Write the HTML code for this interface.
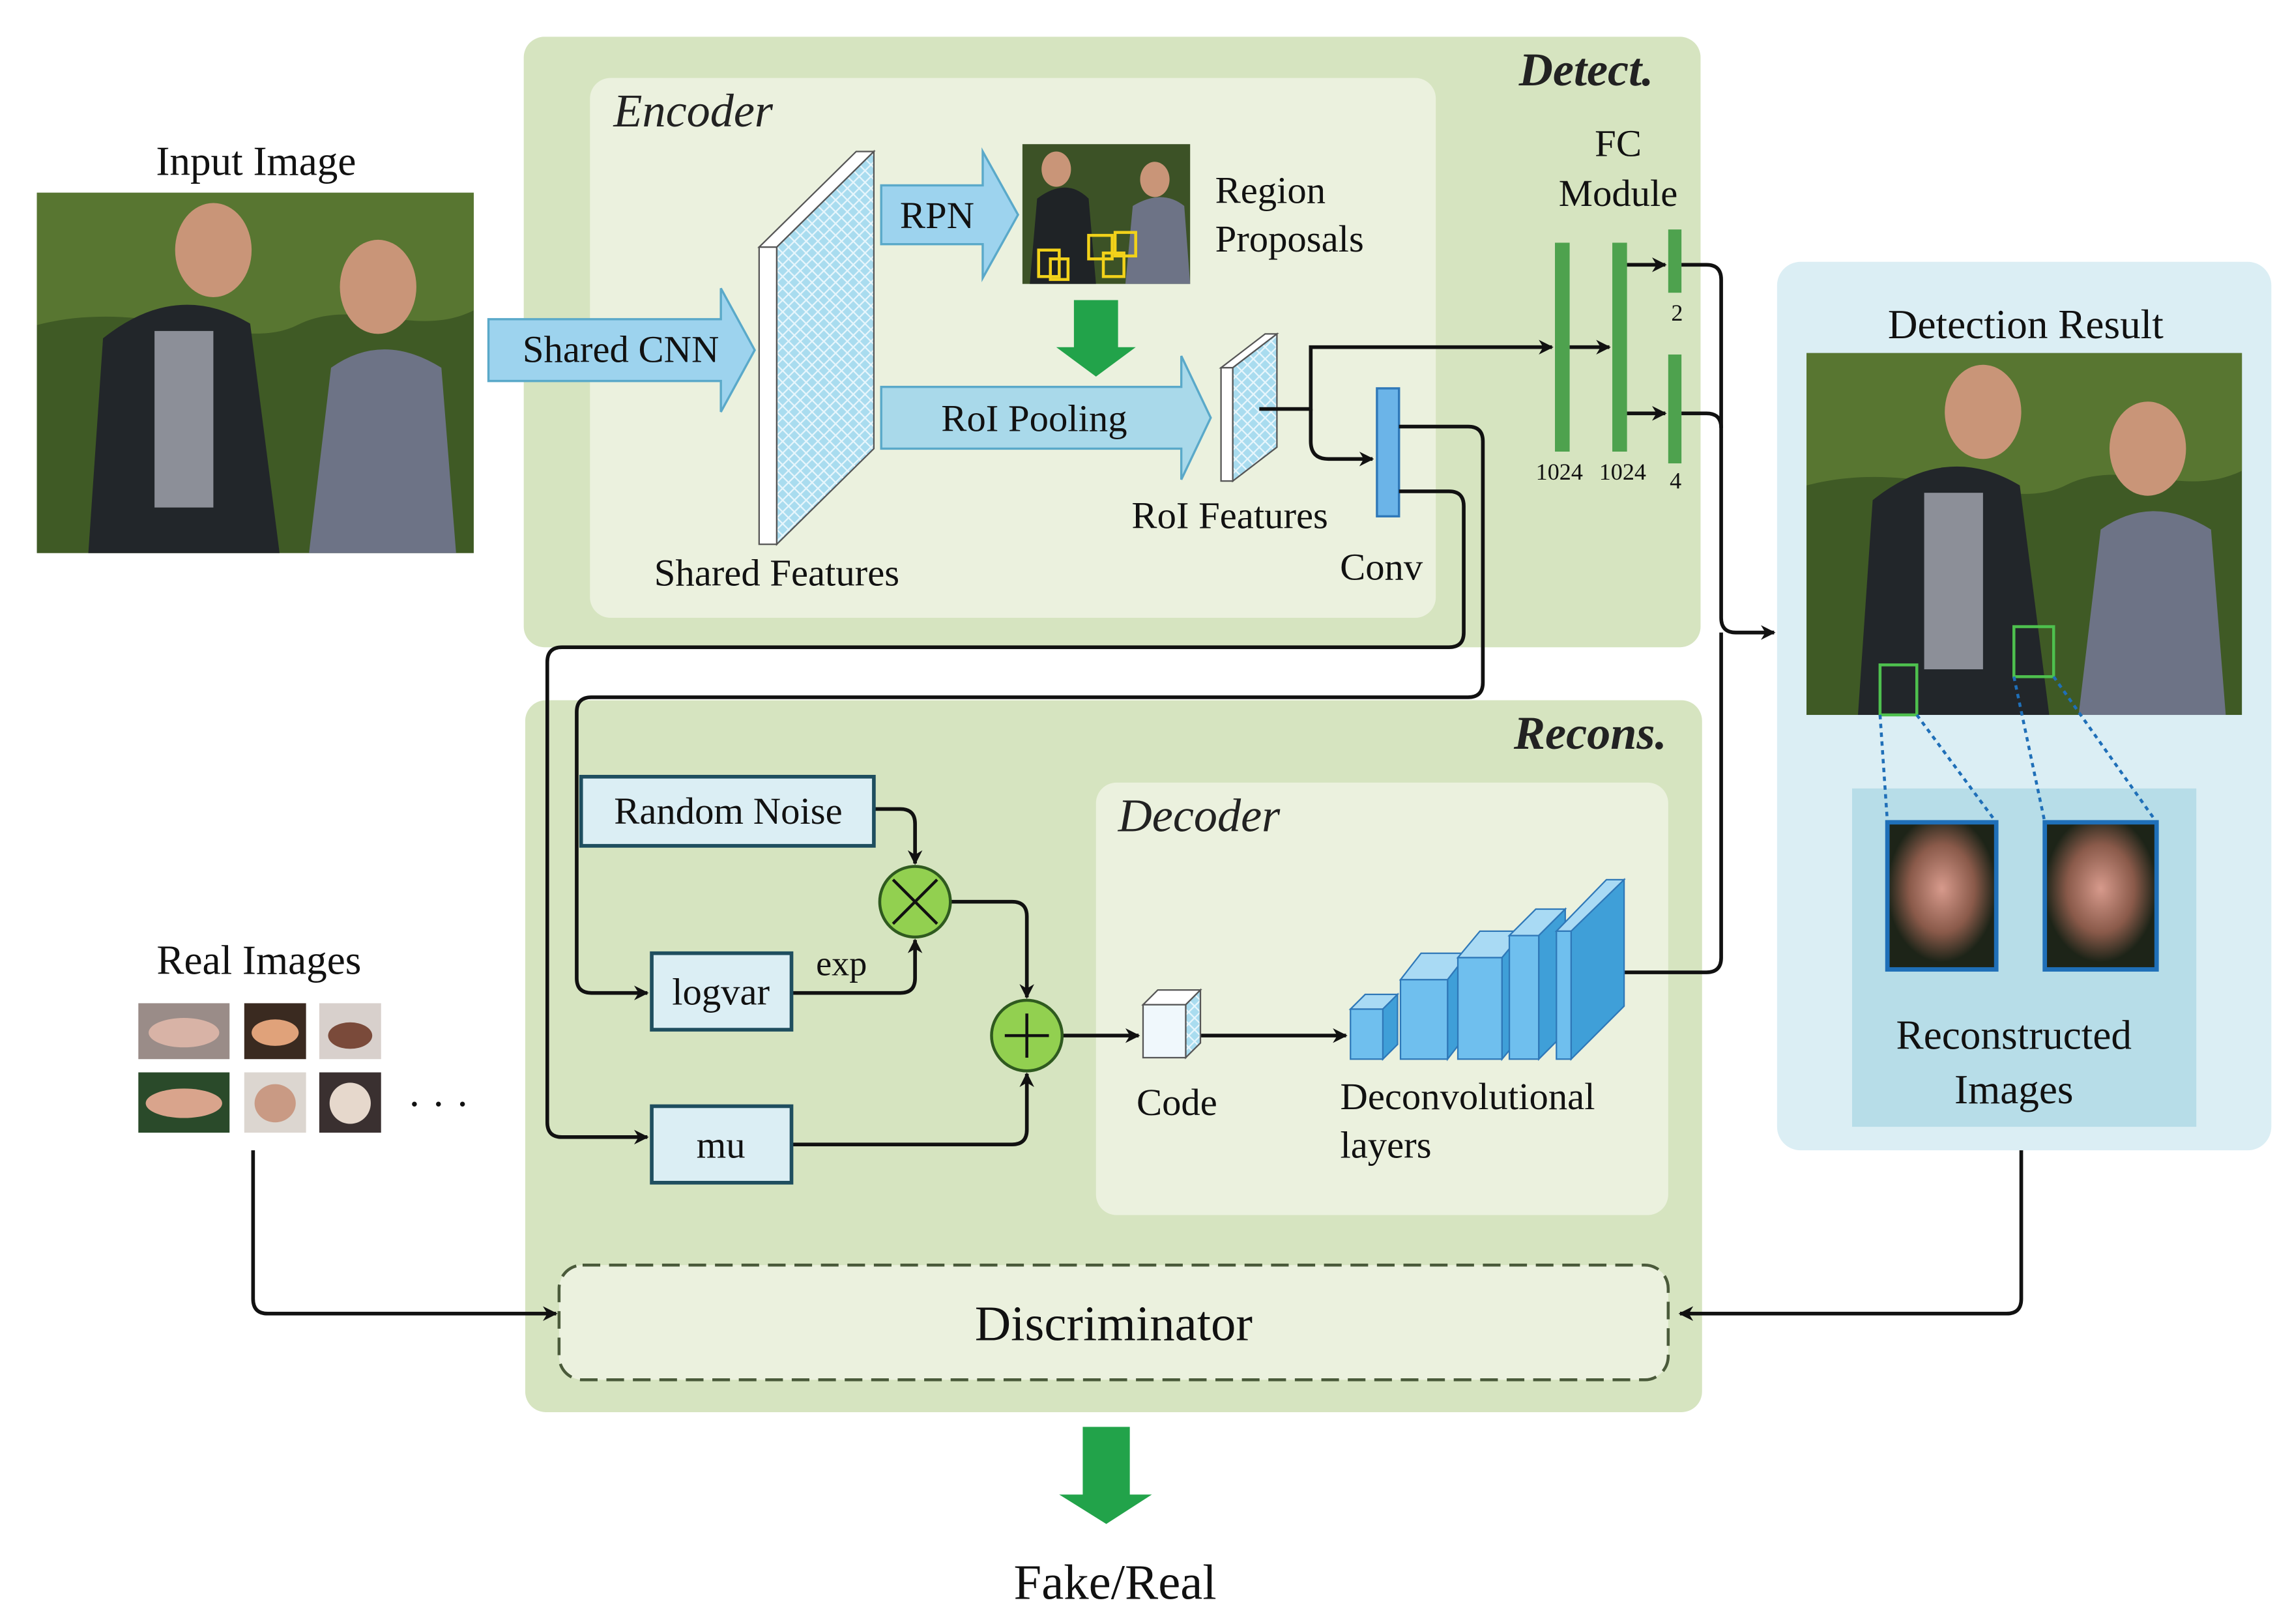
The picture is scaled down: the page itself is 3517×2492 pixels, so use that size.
<!DOCTYPE html>
<html><head><meta charset="utf-8"><style>html,body{margin:0;padding:0;background:#fff}svg{display:block}</style></head>
<body>
<svg width="3517" height="2492" viewBox="0 0 1558 1104" xmlns="http://www.w3.org/2000/svg" font-family="Liberation Serif, serif">
<defs>
<marker id="ar" markerWidth="10" markerHeight="10" refX="9" refY="5" orient="auto" markerUnits="userSpaceOnUse"><path d="M0,0 L10,5 L0,10 L3,5 Z" fill="#111"/></marker>
<pattern id="hatch" width="8" height="8" patternUnits="userSpaceOnUse"><rect width="8" height="8" fill="#a9dcef"/><path d="M0,0L8,8M8,0L0,8" stroke="#e8f6fc" stroke-width="1"/></pattern>
<radialGradient id="blob" cx="0.5" cy="0.45" r="0.5"><stop offset="0" stop-color="#d79a8c"/><stop offset="0.6" stop-color="#8a5a4a"/><stop offset="1" stop-color="#1d2418"/></radialGradient>
</defs>
<!-- panels -->
<rect x="356" y="25" width="800" height="415" rx="14" fill="#d6e4c0"/>
<rect x="401" y="53" width="575" height="367" rx="14" fill="#ebf1de"/>
<rect x="357" y="476" width="800" height="484" rx="14" fill="#d6e4c0"/>
<rect x="745" y="532" width="389" height="294" rx="14" fill="#ebf1de"/>
<rect x="380" y="860" width="754" height="78" rx="16" fill="#ebf1de" stroke="#4a5a3a" stroke-width="2" stroke-dasharray="12,6"/>
<rect x="1208" y="178" width="336" height="604" rx="16" fill="#dbeef4"/>
<rect x="1259" y="536" width="234" height="230" fill="#b7dde8"/>

<text x="417" y="86" font-size="32" font-style="italic" fill="#222">Encoder</text>
<text x="1124" y="58" font-size="32" font-style="italic" font-weight="bold" text-anchor="end" fill="#222">Detect.</text>
<text x="1133" y="509" font-size="32" font-style="italic" font-weight="bold" text-anchor="end" fill="#222">Recons.</text>
<text x="760" y="565" font-size="32" font-style="italic" fill="#222">Decoder</text>

<!-- input image -->
<text x="174" y="119" font-size="28" text-anchor="middle" fill="#111">Input Image</text>
<rect x="25" y="131" width="297" height="245" fill="#3f5a25"/>
<path d="M25,131h297v80c-40,20-80,-10-120,10s-100,-20-177,0z" fill="#5f7d35" opacity="0.8"/>
<path d="M60,376 L70,230 Q120,190 170,220 L190,376Z" fill="#22262a"/>
<rect x="105" y="225" width="40" height="120" fill="#8c8f98"/>
<ellipse cx="145" cy="170" rx="26" ry="32" fill="#c99578"/>
<path d="M210,376 L225,250 Q260,225 300,250 L310,376Z" fill="#6d7386"/>
<ellipse cx="257" cy="195" rx="26" ry="32" fill="#c99578"/>

<!-- shared CNN arrow -->
<path d="M332,217H490V196L513,238L490,280V259H332Z" fill="#9dd3ee" stroke="#5aa9c9" stroke-width="1.5"/>
<text x="422" y="246" font-size="26" text-anchor="middle" fill="#111">Shared CNN</text>
<!-- shared features slab -->
<path d="M516,168L582,103H594L528,168Z" fill="#fff" stroke="#555" stroke-width="1"/>
<rect x="516" y="168" width="12" height="202" fill="#fff" stroke="#555" stroke-width="1"/>
<path d="M528,168L594,103V305L528,370Z" fill="url(#hatch)" stroke="#555" stroke-width="1"/>
<text x="528" y="398" font-size="26" text-anchor="middle" fill="#111">Shared Features</text>

<!-- RPN -->
<path d="M599,126H668V103L692,146L668,189V166H599Z" fill="#9dd3ee" stroke="#5aa9c9" stroke-width="1.5"/>
<text x="637" y="155" font-size="26" text-anchor="middle" fill="#111">RPN</text>
<rect x="695" y="98" width="114" height="95" fill="#3c5226"/>
<path d="M700,193 L705,135 Q725,120 740,135 L745,193Z" fill="#1f2326"/>
<ellipse cx="718" cy="115" rx="10" ry="12" fill="#c99578"/>
<path d="M765,193 L770,140 Q790,128 805,140 L809,193Z" fill="#6d7386"/>
<ellipse cx="785" cy="122" rx="10" ry="12" fill="#c99578"/>
<g fill="none" stroke="#f2d21a" stroke-width="2"><rect x="706" y="170" width="14" height="18"/><rect x="714" y="176" width="12" height="14"/><rect x="740" y="160" width="16" height="16"/><rect x="750" y="172" width="14" height="16"/><rect x="758" y="158" width="14" height="16"/></g>
<text x="826" y="138" font-size="26" fill="#111">Region</text>
<text x="826" y="171" font-size="26" fill="#111">Proposals</text>
<path d="M730,204H760V236H772L745,256L718,236H730Z" fill="#22a34a"/>

<!-- RoI pooling -->
<path d="M599,263H803V242L823,284L803,326V305H599Z" fill="#a9d9ea" stroke="#5aa9c9" stroke-width="1.5"/>
<text x="703" y="293" font-size="26" text-anchor="middle" fill="#111">RoI Pooling</text>
<path d="M830,250L860,227H868L838,250Z" fill="#fff" stroke="#555"/>
<rect x="830" y="250" width="8" height="77" fill="#fff" stroke="#555"/>
<path d="M838,250L868,227V304L838,327Z" fill="url(#hatch)" stroke="#555"/>
<text x="836" y="359" font-size="26" text-anchor="middle" fill="#111">RoI Features</text>

<!-- conv -->
<rect x="936" y="264" width="15" height="87" fill="#6bb4e8" stroke="#2f78b8" stroke-width="1.5"/>
<text x="939" y="394" font-size="26" text-anchor="middle" fill="#111">Conv</text>

<!-- FC -->
<text x="1100" y="106" font-size="26" text-anchor="middle" fill="#111">FC</text>
<text x="1100" y="140" font-size="26" text-anchor="middle" fill="#111">Module</text>
<g fill="#4ea24e"><rect x="1057" y="165" width="10" height="142"/><rect x="1096" y="165" width="10" height="142"/><rect x="1134" y="156" width="9" height="43"/><rect x="1134" y="241" width="9" height="74"/></g>
<g font-size="16" fill="#111" text-anchor="middle"><text x="1060" y="326">1024</text><text x="1103" y="326">1024</text><text x="1140" y="218">2</text><text x="1139" y="332">4</text></g>

<!-- connectors -->
<g fill="none" stroke="#111" stroke-width="2.5">
<path d="M856,278H891V236H1055" marker-end="url(#ar)"/>
<path d="M891,278V300Q891,312 903,312H933" marker-end="url(#ar)"/>
<path d="M1067,236H1094" marker-end="url(#ar)"/>
<path d="M1106,180H1132" marker-end="url(#ar)"/>
<path d="M1106,281H1132" marker-end="url(#ar)"/>
<path d="M1143,180H1160Q1170,180 1170,190V420Q1170,430 1180,430H1206" marker-end="url(#ar)"/>
<path d="M1143,281H1160Q1170,281 1170,291"/>
<path d="M951,290H998Q1008,290 1008,300V464Q1008,474 998,474H402Q392,474 392,484V665Q392,675 402,675H440" marker-end="url(#ar)"/>
<path d="M951,334H985Q995,334 995,344V430Q995,440 985,440H382Q372,440 372,450V763Q372,773 382,773H440" marker-end="url(#ar)"/>
<path d="M594,550H612Q622,550 622,560V587" marker-end="url(#ar)"/>
<path d="M538,675H612Q622,675 622,665V639" marker-end="url(#ar)"/>
<path d="M646,613H688Q698,613 698,623V678" marker-end="url(#ar)"/>
<path d="M538,778H688Q698,778 698,768V730" marker-end="url(#ar)"/>
<path d="M722,704H774" marker-end="url(#ar)"/>
<path d="M816,704H915" marker-end="url(#ar)"/>
<path d="M1086,661H1160Q1170,661 1170,651V430"/>
<path d="M1374,782V883Q1374,893 1364,893H1142" marker-end="url(#ar)"/>
<path d="M172,782V883Q172,893 182,893H378" marker-end="url(#ar)"/>
</g>

<!-- recons boxes -->
<rect x="395" y="528" width="199" height="47" fill="#dbeef4" stroke="#1f4e5f" stroke-width="2.5"/>
<text x="495" y="560" font-size="26" text-anchor="middle" fill="#111">Random Noise</text>
<rect x="443" y="648" width="95" height="52" fill="#dbeef4" stroke="#1f4e5f" stroke-width="2.5"/>
<text x="490" y="683" font-size="26" text-anchor="middle" fill="#111">logvar</text>
<text x="572" y="663" font-size="24" text-anchor="middle" fill="#111">exp</text>
<rect x="443" y="752" width="95" height="52" fill="#dbeef4" stroke="#1f4e5f" stroke-width="2.5"/>
<text x="490" y="787" font-size="26" text-anchor="middle" fill="#111">mu</text>
<circle cx="622" cy="613" r="24" fill="#92d050" stroke="#2f5a1f" stroke-width="2"/>
<path d="M607,598L637,628M637,598L607,628" stroke="#111" stroke-width="2"/>
<circle cx="698" cy="704" r="24" fill="#92d050" stroke="#2f5a1f" stroke-width="2"/>
<path d="M683,704H713M698,689V719" stroke="#111" stroke-width="2"/>

<!-- code cube -->
<path d="M777,683L787,673H816L806,683Z" fill="#fff" stroke="#555"/>
<path d="M806,683L816,673V709L806,719Z" fill="url(#hatch)" stroke="#555"/>
<rect x="777" y="683" width="29" height="36" fill="#f0f8fc" stroke="#555"/>
<text x="800" y="758" font-size="26" text-anchor="middle" fill="#111">Code</text>

<!-- deconv -->
<g stroke="#2f78b8" stroke-width="1" fill="#6fbfee">
<path d="M918,686L928,676H950L940,686Z" fill="#a9daf4"/><path d="M940,686L950,676V710L940,720Z" fill="#3f9fd8"/><rect x="918" y="686" width="22" height="34"/>
<path d="M952,666L966,648H998L984,666Z" fill="#a9daf4"/><path d="M984,666L998,648V702L984,720Z" fill="#3f9fd8"/><rect x="952" y="666" width="32" height="54"/>
<path d="M991,651L1006,633H1036L1021,651Z" fill="#a9daf4"/><path d="M1021,651L1036,633V702L1021,720Z" fill="#3f9fd8"/><rect x="991" y="651" width="30" height="69"/>
<path d="M1026,636L1044,618H1064L1046,636Z" fill="#a9daf4"/><path d="M1046,636L1064,618V702L1046,720Z" fill="#3f9fd8"/><rect x="1026" y="636" width="20" height="84"/>
<path d="M1058,633L1092,598H1104L1070,633Z" fill="#a9daf4"/><path d="M1068,633L1104,598V684L1068,720Z" fill="#3f9fd8"/><rect x="1058" y="633" width="10" height="87"/>
</g>
<text x="911" y="754" font-size="26" fill="#111">Deconvolutional</text>
<text x="911" y="787" font-size="26" fill="#111">layers</text>

<text x="757" y="911" font-size="34" text-anchor="middle" fill="#111">Discriminator</text>
<path d="M736,970H768V1016H783L752,1036L720,1016H736Z" fill="#22a34a"/>
<text x="758" y="1087" font-size="34" text-anchor="middle" fill="#111">Fake/Real</text>

<!-- real images -->
<text x="176" y="662" font-size="28" text-anchor="middle" fill="#111">Real Images</text>
<g>
<rect x="94" y="682" width="62" height="38" fill="#9a8c88"/><ellipse cx="125" cy="702" rx="24" ry="10" fill="#d8b3a6"/>
<rect x="166" y="682" width="42" height="38" fill="#3a2a20"/><ellipse cx="187" cy="702" rx="16" ry="9" fill="#e0a27a"/>
<rect x="217" y="682" width="42" height="38" fill="#d8d0cc"/><ellipse cx="238" cy="704" rx="15" ry="9" fill="#7a4a3a"/>
<rect x="94" y="729" width="62" height="41" fill="#2a4a2a"/><ellipse cx="125" cy="750" rx="26" ry="10" fill="#d9a48c"/>
<rect x="166" y="729" width="42" height="41" fill="#dcd6d0"/><ellipse cx="187" cy="750" rx="14" ry="13" fill="#c99a84"/>
<rect x="217" y="729" width="42" height="41" fill="#3a3030"/><ellipse cx="238" cy="750" rx="14" ry="14" fill="#e6d8cc"/>
</g>
<text x="298" y="760" font-size="28" text-anchor="middle" fill="#111">· · ·</text>

<!-- detection result -->
<text x="1377" y="230" font-size="28" text-anchor="middle" fill="#111">Detection Result</text>
<rect x="1228" y="240" width="296" height="246" fill="#3f5a25"/>
<path d="M1228,240h296v80c-40,20-80,-10-120,10s-100,-20-176,0z" fill="#5f7d35" opacity="0.8"/>
<path d="M1263,486 L1273,340 Q1323,300 1373,330 L1393,486Z" fill="#22262a"/>
<rect x="1308" y="335" width="40" height="120" fill="#8c8f98"/>
<ellipse cx="1348" cy="280" rx="26" ry="32" fill="#c99578"/>
<path d="M1413,486 L1428,360 Q1463,335 1503,360 L1513,486Z" fill="#6d7386"/>
<ellipse cx="1460" cy="305" rx="26" ry="32" fill="#c99578"/>
<rect x="1278" y="452" width="25" height="34" fill="none" stroke="#4ec04e" stroke-width="2"/>
<rect x="1369" y="426" width="27" height="34" fill="none" stroke="#4ec04e" stroke-width="2"/>
<g stroke="#1f6fb8" stroke-width="2" stroke-dasharray="3,3"><path d="M1278,486L1283,559M1303,486L1357,559M1369,460L1390,559M1396,460L1466,559"/></g>
<rect x="1283" y="559" width="74" height="100" fill="url(#blob)" stroke="#1f6fb8" stroke-width="3"/>
<rect x="1390" y="559" width="76" height="100" fill="url(#blob)" stroke="#1f6fb8" stroke-width="3"/>
<text x="1369" y="713" font-size="28" text-anchor="middle" fill="#111">Reconstructed</text>
<text x="1369" y="750" font-size="28" text-anchor="middle" fill="#111">Images</text>
</svg>
</body></html>
